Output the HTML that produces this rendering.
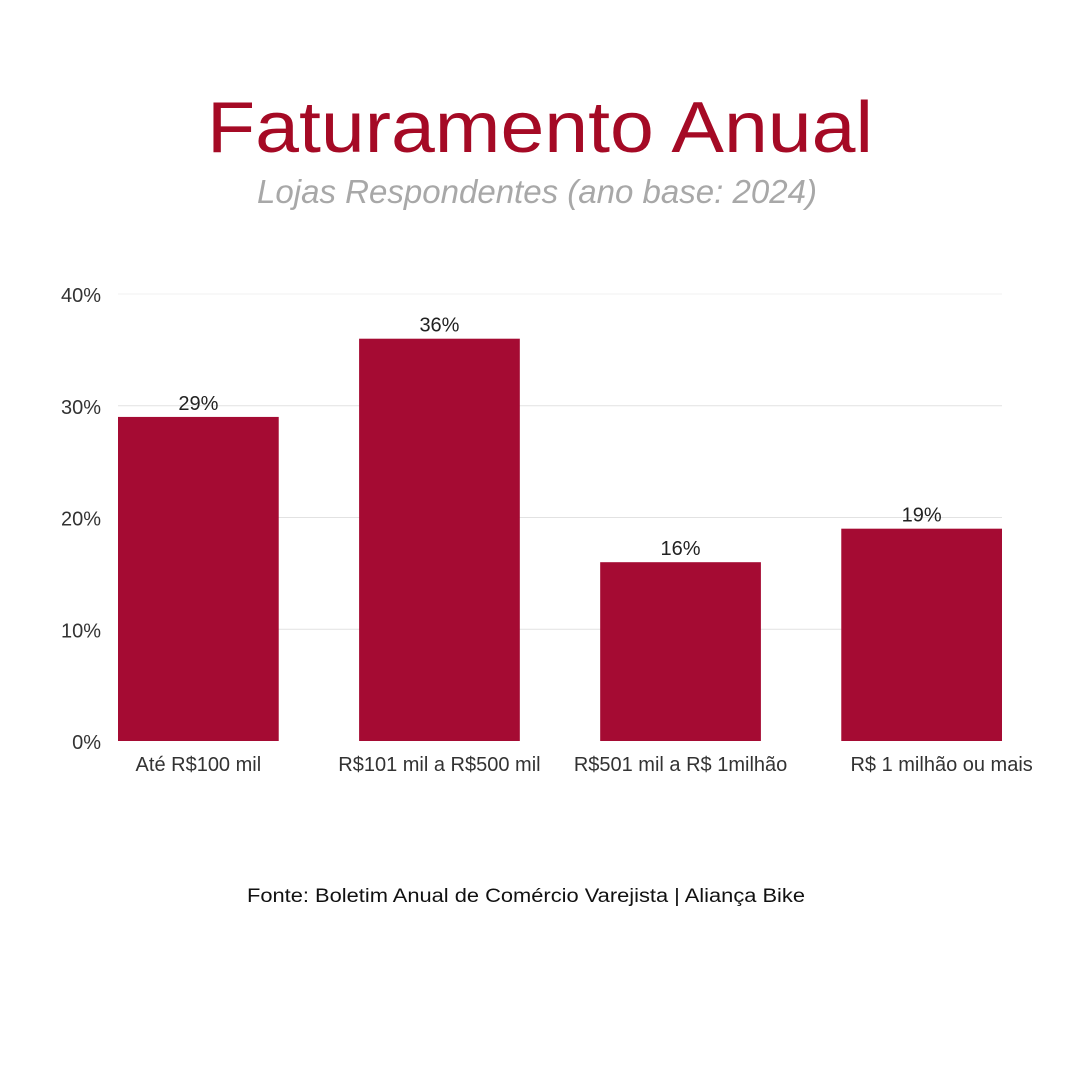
<!DOCTYPE html>
<html><head><meta charset="utf-8"><style>
body{margin:0;width:1080px;height:1080px;background:#fff;overflow:hidden;font-family:"Liberation Sans",sans-serif}
</style></head><body>
<svg width="1080" height="1080" xmlns="http://www.w3.org/2000/svg">
<text x="540" y="152" text-anchor="middle" font-size="72" fill="#a50a25" font-family="Liberation Sans, sans-serif" textLength="666" lengthAdjust="spacingAndGlyphs">Faturamento Anual</text>
<text x="537" y="203" text-anchor="middle" font-size="33" font-style="italic" fill="#a8a8a8" textLength="560" lengthAdjust="spacingAndGlyphs">Lojas Respondentes (ano base: 2024)</text>
<g id="grid"></g><g id="bars"></g><g id="labels"></g>
<text x="526" y="902" text-anchor="middle" font-size="19" fill="#111" textLength="558" lengthAdjust="spacingAndGlyphs">Fonte: Boletim Anual de Comércio Varejista | Aliança Bike</text>
</svg>
<script>
const categories=["Até R$100 mil","R$101 mil a R$500 mil","R$501 mil a R$ 1milhão","R$ 1 milhão ou mais"];
const values=[29,36,16,19];
const ticks=[0,10,20,30,40];
const tickLabels=["0%","10%","20%","30%","40%"];
const NS="http://www.w3.org/2000/svg";
const x0=118,x1=1002,y0=741,yTop=294,maxV=40;
const y=v=>y0-(y0-yTop)*v/maxV;
const band=(x1-x0)/(categories.length-1/3);
const bw=band*2/3;
const bx=i=>x0+i*band;
function mk(t,a,p){const e=document.createElementNS(NS,t);for(const k in a)e.setAttribute(k,a[k]);p.appendChild(e);return e;}
const g=document.getElementById('grid'),b=document.getElementById('bars'),l=document.getElementById('labels');
ticks.forEach((t,i)=>{
  if(t>0){const ln=mk('line',{x1:x0,x2:x1,y1:y(t),y2:y(t),stroke:t===40?'#f0f0f0':'#e2e2e2','stroke-width':1},g);
  
  }
  const tx=mk('text',{x:101,y:y(t)+8,'text-anchor':'end','font-size':20,fill:'#333'},g);
  tx.textContent=tickLabels[i];
  
  
});
values.forEach((v,i)=>{
  const r=mk('rect',{x:bx(i),y:y(v),width:bw,height:y0-y(v),fill:'#a50b33'},b);
  
  
  const vt=mk('text',{x:bx(i)+bw/2,y:y(v)-7,'text-anchor':'middle','font-size':20,fill:'#222'},l);
  vt.textContent=v+'%';
  
  
  const ct=mk('text',{x:bx(i)+bw/2+(i===3?20:0),y:771,'text-anchor':'middle','font-size':20,fill:'#333'},l);
  ct.textContent=categories[i];
  
  
});
</script>
</body></html>
